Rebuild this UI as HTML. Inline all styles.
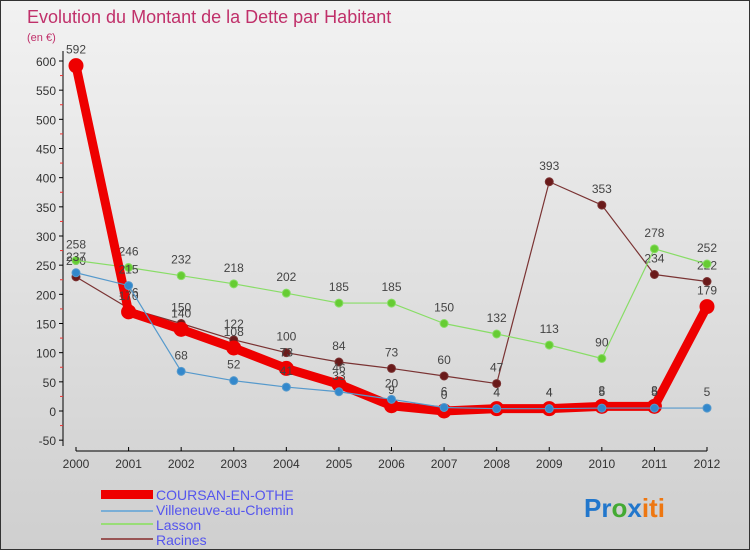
<!DOCTYPE html>
<html><head><meta charset="utf-8"><style>
body{margin:0}
#w{width:750px;height:550px;position:relative;overflow:hidden;font-family:"Liberation Sans",sans-serif;background:linear-gradient(#f2f2f2,#cfcfcf);box-sizing:border-box;border:1px solid #333}
</style></head><body>
<div id="w">
<svg id="c" width="750" height="550" xmlns="http://www.w3.org/2000/svg">
<text x="26" y="22" font-size="18" fill="#c0306a">Evolution du Montant de la Dette par Habitant</text>
<text x="26" y="40" font-size="11" fill="#c0306a">(en €)</text>
<g id="ax"></g><g id="series"></g>
<g>
<rect x="100" y="489" width="52" height="9" fill="#e00"/>
<text x="155" y="499" font-size="14" fill="#5555ee">COURSAN-EN-OTHE</text>
<rect x="100" y="509" width="52" height="2" fill="#7aaed6"/>
<text x="155" y="514" font-size="14" fill="#5555ee">Villeneuve-au-Chemin</text>
<rect x="100" y="522" width="52" height="2" fill="#99dd77"/>
<text x="155" y="529" font-size="14" fill="#5555ee">Lasson</text>
<rect x="100" y="537" width="52" height="2" fill="#995555"/>
<text x="155" y="544" font-size="14" fill="#5555ee">Racines</text>
</g>
<text x="583" y="516" font-size="26" font-weight="bold"><tspan fill="#2277cc">Pr</tspan><tspan fill="#44aa33">o</tspan><tspan fill="#2277cc">x</tspan><tspan fill="#ee7711">iti</tspan></text>
</svg></div>
<script>
const years=[2000,2001,2002,2003,2004,2005,2006,2007,2008,2009,2010,2011,2012];
const yTicks=[-50,0,50,100,150,200,250,300,350,400,450,500,550,600];
const coursan=[592,170,140,108,73,46,9,0,4,4,8,8,179];
const villeneuve=[237,215,68,52,41,33,20,6,4,4,5,5,5];
const lasson=[258,246,232,218,202,185,185,150,132,113,90,278,252];
const racines=[230,176,150,122,100,84,73,60,47,393,353,234,222];
const NS="http://www.w3.org/2000/svg";
const X=i=>75+i*(706-75)/12;
const Y=v=>410-v*350/600;
function mk(t,a,p){const e=document.createElementNS(NS,t);for(const k in a)e.setAttribute(k,a[k]);p.appendChild(e);return e;}
const ax=document.getElementById('ax');
const yl=mk('line',{x1:62,y1:50,x2:62,y2:445,stroke:'#000'},ax);


mk('line',{x1:75,y1:450,x2:706,y2:450,stroke:'#000'},ax);
yTicks.forEach(v=>{
 mk('line',{x1:58,y1:Y(v),x2:62,y2:Y(v),stroke:'#000'},ax);
 if(v<600) mk('line',{x1:59,y1:Y(v+25),x2:62,y2:Y(v+25),stroke:'#e33'},ax);
 const t=mk('text',{x:55,y:Y(v)+5,'font-size':12,fill:'#333','text-anchor':'end'},ax);
 t.textContent=v;
 
 
});
years.forEach((y,i)=>{
 mk('line',{x1:X(i),y1:446,x2:X(i),y2:450,stroke:'#000'},ax);
 const t=mk('text',{x:X(i),y:467,'font-size':12,fill:'#333','text-anchor':'middle'},ax);
 t.textContent=y;
 
 
});
const sg=document.getElementById('series');
function series(data,color,w,r,name,dot){
 const g=mk('g',{},sg);
 
 
 mk('polyline',{points:data.map((v,i)=>X(i)+','+Y(v)).join(' '),fill:'none',stroke:color,'stroke-width':w,'stroke-linejoin':'round'},g);
 data.forEach((v,i)=>{
  const c=mk('circle',{cx:X(i),cy:Y(v),r:r,fill:dot,stroke:color,'stroke-width':1},g);
  
  
  const t=mk('text',{x:X(i),y:Y(v)-12,'font-size':12,fill:'#444','text-anchor':'middle'},g);
  t.textContent=v;
  
  
 });
}
series(racines,'#7a3333',1.2,4,'racines','#6a1a1a');
series(lasson,'#88dd66',1.2,4,'lasson','#66cc33');
series(coursan,'#ee0000',9,7,'coursan','#ee0000');
series(villeneuve,'#5599cc',1.2,4,'villeneuve','#3388cc');
</script>
</body></html>
